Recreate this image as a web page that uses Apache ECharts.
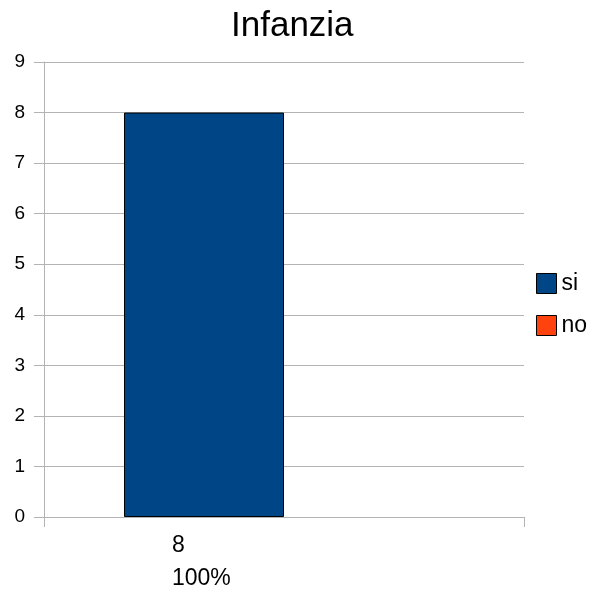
<!DOCTYPE html>
<html><head><meta charset="utf-8">
<script src="https://cdn.jsdelivr.net/npm/echarts@6/dist/echarts.min.js"></script>
<style>html,body{margin:0;padding:0;background:#fff}#c{width:593px;height:591px}</style>
</head><body><div id="c"></div>
<script>
const titleText = 'Infanzia';
const categories = [''];
const seriesNames = ['si', 'no'];
const siValues = [8];
const noValues = [0];
const siLabel = '8\n100%';
const yTicks = [0, 1, 2, 3, 4, 5, 6, 7, 8, 9];

const FONT = '"Liberation Sans", Arial, sans-serif';
const chart = echarts.init(document.getElementById('c'));
chart.setOption({
  animation: false,
  backgroundColor: '#fff',
  title: { text: titleText, left: 226, top: 4, textStyle: { fontFamily: FONT, fontSize: 35, fontWeight: 'normal', color: '#000' } },
  legend: {
    orient: 'vertical', left: 531, top: 267, itemWidth: 20, itemHeight: 20, itemGap: 19,
    icon: 'rect', textStyle: { fontFamily: FONT, fontSize: 23, color: '#000' },
    itemStyle: { borderColor: '#000', borderWidth: 1 },
    data: seriesNames
  },
  grid: { left: 44, right: 69, top: 62, bottom: 74, containLabel: false },
  xAxis: {
    type: 'category', data: categories,
    axisLine: { lineStyle: { color: '#b3b3b3' } },
    axisTick: { show: true, length: 10, lineStyle: { color: '#b3b3b3' } },
    axisLabel: { show: false }
  },
  yAxis: {
    type: 'value', min: yTicks[0], max: yTicks[yTicks.length - 1], interval: 1,
    axisLine: { show: true, lineStyle: { color: '#b3b3b3' } },
    axisTick: { show: true, length: 10, lineStyle: { color: '#b3b3b3' } },
    splitLine: { lineStyle: { color: '#b3b3b3' } },
    axisLabel: { margin: 19, fontFamily: FONT, fontSize: 19, color: '#000' }
  },
  series: [
    { name: seriesNames[0], type: 'bar', data: siValues, barGap: '0%', barCategoryGap: '33.33%',
      itemStyle: { color: '#004586', borderColor: '#000', borderWidth: 1 },
      label: { show: true, position: 'bottom', distance: 12, align: 'left', offset: [-32, 0],
        formatter: () => siLabel, fontFamily: FONT, fontSize: 23, color: '#000', lineHeight: 33 } },
    { name: seriesNames[1], type: 'bar', data: noValues,
      itemStyle: { color: '#ff420e', borderWidth: 0 } }
  ]
});
</script></body></html>
